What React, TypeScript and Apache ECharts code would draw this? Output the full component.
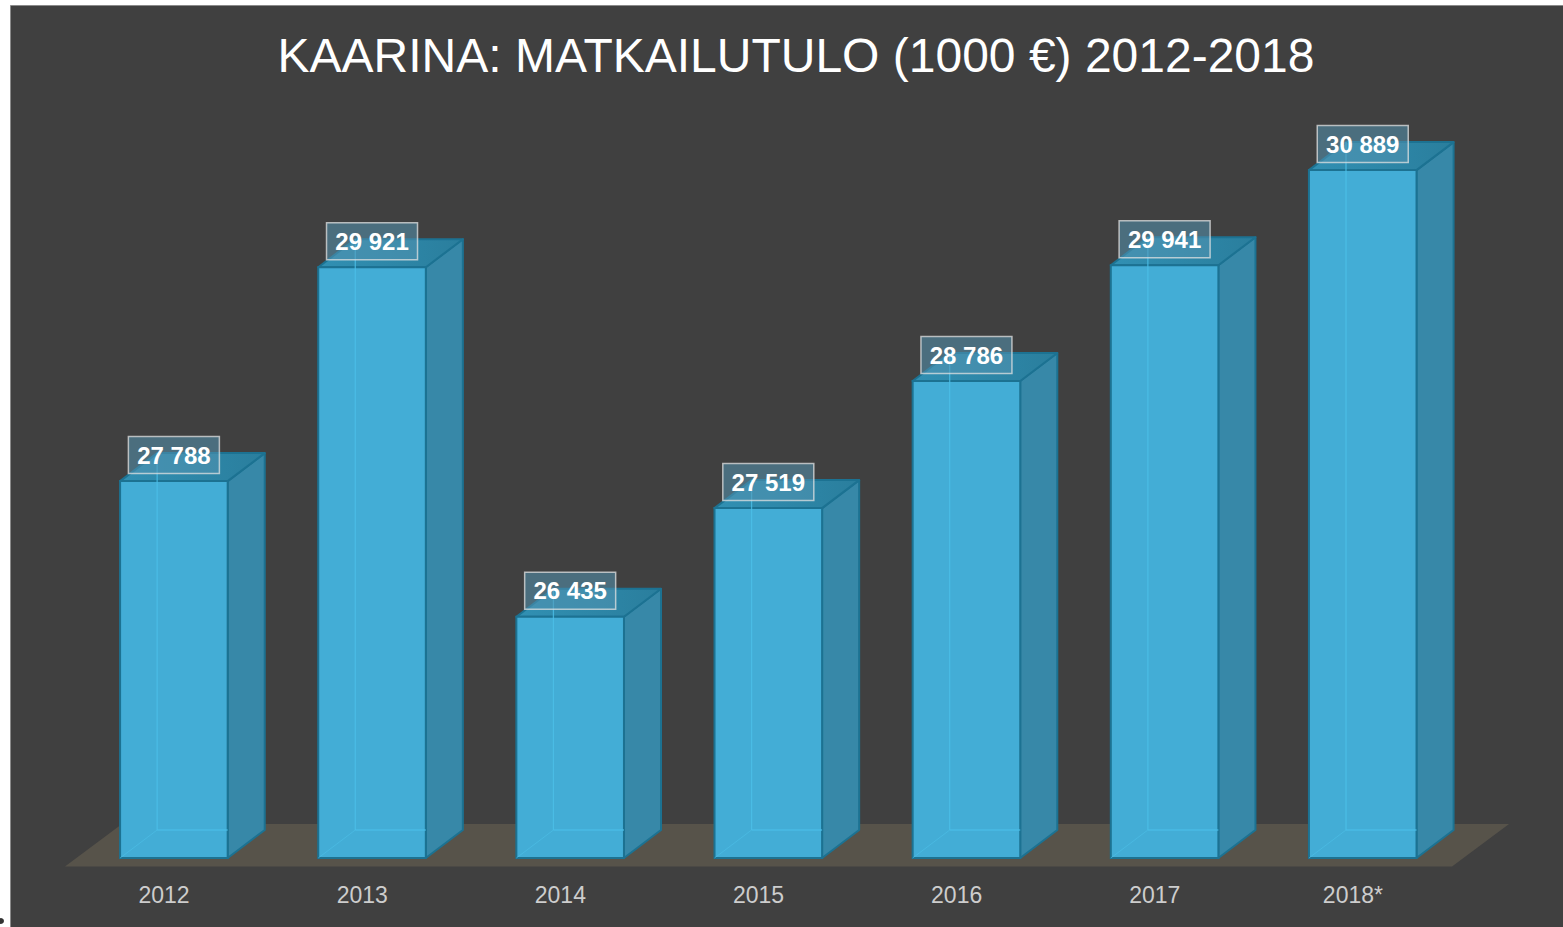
import React, { useEffect, useRef } from "react";
import * as echarts from "echarts";

const years = ["2012", "2013", "2014", "2015", "2016", "2017", "2018*"];
const values = [27788, 29921, 26435, 27519, 28786, 29941, 30889];
const titleText = "KAARINA: MATKAILUTULO (1000 €) 2012-2018";
const yMin = 24000;
const yMax = 32000;

function fmt(v: number): string {
  return String(v).replace(/\B(?=(\d{3})+(?!\d))/g, " ");
}

const FONT = "'Liberation Sans', Arial, Helvetica, sans-serif";

export default function App() {
  const ref = useRef<HTMLDivElement>(null);
  useEffect(() => {
    document.body.style.margin = "0";
    const chart = echarts.init(ref.current!, undefined, { renderer: "svg" });
    const edge = "#1C7292";
    const option: any = {
      animation: false,
      backgroundColor: "#ffffff",
      grid: { left: 65, right: 111, top: 58.7, bottom: 66 },
      xAxis: {
        type: "category",
        data: years,
        axisLine: { show: false },
        axisTick: { show: false },
        axisLabel: { color: "#cdcdcd", fontSize: 23, fontFamily: FONT, margin: 22 },
        z: 5,
      },
      yAxis: { type: "value", min: yMin, max: yMax, show: false, splitLine: { show: false } },
      graphic: [
        {
          type: "rect",
          z: -10,
          shape: { x: 10.5, y: 5.5, width: 1560, height: 930 },
          style: { fill: "#404040", stroke: "#8a8a8a", lineWidth: 1 },
        },
        {
          type: "circle",
          z: -10,
          shape: { cx: 1, cy: 921, r: 3 },
          style: { fill: "#333333" },
        },
        {
          type: "text",
          x: 796,
          y: 55,
          style: {
            text: titleText,
            fill: "#ffffff",
            fontSize: 48,
            fontFamily: FONT,
            align: "center",
            verticalAlign: "middle",
            textAlign: "center",
            textVerticalAlign: "middle",
          },
        },
      ],
      series: [
        {
          type: "custom",
          name: "floor",
          z: 1,
          data: [[0, yMin]],
          renderItem: (params: any, api: any) => {
            const cs = params.coordSys;
            const gy = cs.y + cs.height;
            return {
              type: "polygon",
              shape: {
                points: [
                  [cs.x, gy + 5.5],
                  [cs.x + cs.width, gy + 5.5],
                  [cs.x + cs.width + 57, gy - 37],
                  [cs.x + 57, gy - 37],
                ],
              },
              style: { fill: "#57534A" },
            };
          },
        },
        {
          type: "custom",
          name: "Matkailutulo",
          z: 3,
          data: values.map((v, i) => [i, v]),
          encode: { x: 0, y: 1 },
          renderItem: (params: any, api: any) => {
            const i = api.value(0);
            const v = api.value(1);
            const top = api.coord([i, v]);
            const base = api.coord([i, yMin]);
            const bw = api.size([1, 0])[0];
            const cx = top[0];
            const L = cx - bw * 0.222;
            const R = L + bw * 0.543;
            const T = top[1];
            const B = base[1] - 3;
            const dx = bw * 0.187;
            const dy = -28;
            const mid = (L + R) / 2;
            return {
              type: "group",
              children: [
                {
                  type: "polygon",
                  shape: { points: [[R, T], [R + dx, T + dy], [R + dx, B + dy], [R, B]] },
                  style: { fill: "#3788A8", stroke: edge, lineWidth: 2, lineJoin: "round" },
                },
                {
                  type: "polygon",
                  shape: { points: [[L, T], [R, T], [R + dx, T + dy], [L + dx, T + dy]] },
                  style: {
                    fill: new echarts.graphic.LinearGradient(0, 0, 1, 0, [
                      { offset: 0, color: "#3190B3" },
                      { offset: 1, color: "#2A7E9D" },
                    ]),
                    stroke: edge,
                    lineWidth: 2,
                    lineJoin: "round",
                  },
                },
                {
                  type: "rect",
                  shape: { x: L, y: T, width: R - L, height: B - T },
                  style: { fill: "#43ADD6", stroke: edge, lineWidth: 2 },
                },
                {
                  type: "line",
                  shape: { x1: L + dx, y1: B + dy, x2: L + dx, y2: T + dy },
                  style: { stroke: "#4cbfe8", lineWidth: 1.3, opacity: 0.8 },
                },
                {
                  type: "line",
                  shape: { x1: L + dx, y1: B + dy, x2: R, y2: B + dy },
                  style: { stroke: "#4cbfe8", lineWidth: 1.3, opacity: 0.8 },
                },
                {
                  type: "line",
                  shape: { x1: L, y1: B, x2: L + dx, y2: B + dy },
                  style: { stroke: "#4cbfe8", lineWidth: 1, opacity: 0.6 },
                },
                {
                  type: "rect",
                  shape: { x: mid - 45.5, y: T - 44.5, width: 91, height: 37 },
                  style: { fill: "rgba(84,148,176,0.55)", stroke: "rgba(225,225,225,0.75)", lineWidth: 1.5 },
                },
                {
                  type: "text",
                  x: mid,
                  y: T - 26,
                  style: {
                    text: fmt(v),
                    fill: "#ffffff",
                    fontSize: 24,
                    fontWeight: "bold",
                    fontFamily: FONT,
                    align: "center",
                    verticalAlign: "middle",
                  },
                },
              ],
            };
          },
        },
      ],
    };
    chart.setOption(option);
    return () => chart.dispose();
  }, []);
  return (
    <div
      ref={ref}
      style={{ position: "fixed", left: 0, top: 0, width: 1563, height: 927 }}
    />
  );
}
